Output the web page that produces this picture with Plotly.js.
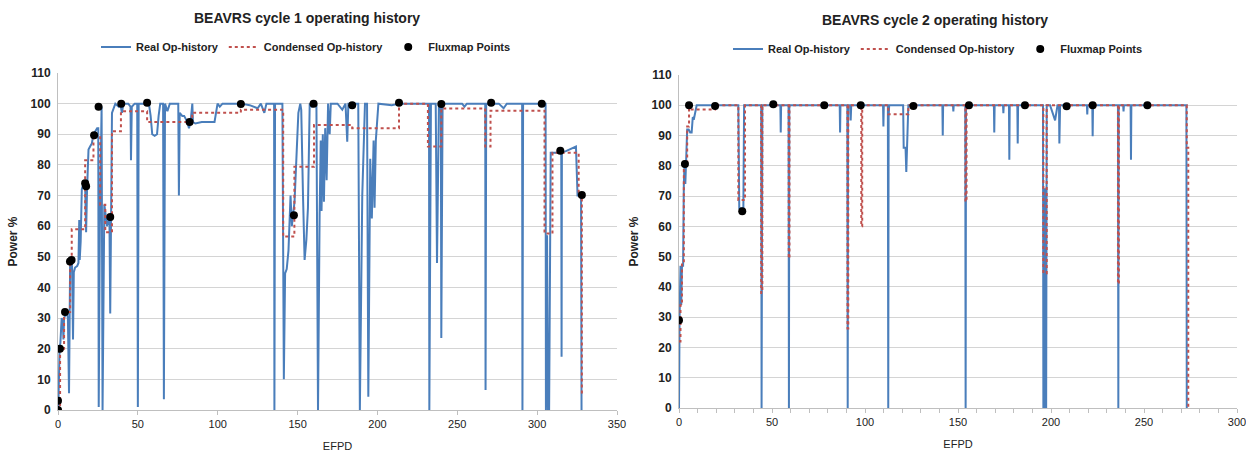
<!DOCTYPE html>
<html>
<head>
<meta charset="utf-8">
<script src="https://cdn.plot.ly/plotly-3.0.1.min.js"></script>
<style>
html,body{margin:0;padding:0;background:#fff;}
#chart{width:1246px;height:452px;}
</style>
</head>
<body>
<div id="chart"></div>
<script>
// ---------- Cycle 1 ----------
const c1RealX = [0,0.3,1.0,1.5,2.3,3.0,3.4,3.8,4.6,5.5,6.2,6.9,7.3,7.6,8.2,8.8,9.4,9.9,10.7,12.0,12.8,13.3,13.6,14.2,14.9,15.9,17.0,17.6,18.2,19.1,20.1,21.2,22.2,23.5,24.5,25.2,25.5,26.2,26.9,27.3,27.9,28.5,29.0,30.0,30.6,31.7,32.2,32.7,33.3,33.8,35.9,38.0,39.0,40.0,41.0,44.0,45.4,45.7,46.2,48.0,49.6,50.0,50.5,52.0,56.9,58.0,59.0,60.5,62.0,63.0,64.0,65.8,66.3,67.0,68.5,70.0,75.3,75.7,76.2,77.8,79.0,81.0,82.0,83.0,84.1,84.5,86.0,90.0,95.0,98.0,99.9,101.3,103,110,115,120,125,127,129.2,130.5,135.3,135.5,135.9,140.5,140.8,141.4,142.2,143.2,144.3,145.6,146.4,147.1,148.1,149.5,150.5,151.7,152.3,153.4,154.4,155.5,156.5,157.6,159.0,161.8,162.8,163.8,164.5,165.0,165.8,166.5,167.3,168.2,169.1,170.1,170.8,175,178,180,181.1,181.8,186,188,189,190.5,192.2,193.5,194.3,195.5,196.5,197.6,198.2,199.0,200.6,209,213.5,232.3,232.5,233.5,236.5,237.3,238.5,239.7,240.0,240.8,253,254.5,256,267.5,267.7,268.1,276,279,281,290.6,290.8,291.2,305.3,305.5,306.2,306.8,307.5,308.5,312,315.1,315.3,315.5,318,322,324.3,325.3,327.5,327.8];
const c1RealY = [0,3,20,22,30,29,23,30,31,32,30,5.5,30,49,48,47,23,45,46.5,47,48,62,49,55,72,74,73,58,72,85,86,87,90,91,92,92,1,60,98,99,0,30,67,63,60,62,63,31.5,80,97,100,99,100,97,100,100,99,81.5,99,100,100,1,100,100,100,96,90,89.5,90,96,100,100,3.5,100,97.5,100,100,70,97,96,96,94,92,94,100,94,93.5,94,94,94,100,99,100,100,100,99.5,98.5,100,97,100,100,0,100,100,61,10,44.6,46,52,70,60,64.2,68,85,97,100,98,70,49,55.5,66,100,99,100,0,63.6,88,65,90,68,92,75,100,90,100,100,98,100,87.6,100,100,100,0,70,100,100,4.3,82,62.5,88,66,88,100,99.5,100,100,0,100,100,48,100,100,23.5,100,100,99,100,100,6.5,100,100,98.5,100,100,0,100,100,0,57,0,0,84,84,84,17.4,84,84.5,85.5,86,70,70,0];
const c1CondX = [0,1.3,3.8,7.6,8.6,17,22.2,26.4,29.6,33.8,39.4,55.8,84,114.5,141,148,160.3,184.2,213.5,231.6,240,267.5,270.8,304.6,309.6,326,328,328.2];
const c1CondY = [0,20,32,49,59,81.5,89.7,67,58,91,97.5,94,97,98,56.6,79.4,93,92,100,86,98.4,86,97.7,57.6,84,70,5,5];
const c1FluxX = [0,0,1.2,4.4,7.5,8.5,17,17.6,22.6,25.4,32.7,39.6,55.8,82.4,114.5,147.7,160,184.2,213.5,240,271.2,302.9,314.5,328];
const c1FluxY = [0,3,20,32,48.5,49,74,73,89.7,99,63,100,100.3,94,99.9,63.6,100,99.5,100.3,99.9,100.3,100,84.6,70.2];

// ---------- Cycle 2 ----------
const c2RealX = [0,0.1,0.3,0.8,1.2,1.6,2.2,2.6,3.0,3.4,3.8,4.4,5.2,6.0,6.8,7.4,8.1,9.5,31.9,32.4,34.6,35.0,44.2,44.4,44.8,54.5,54.7,54.9,58.9,59.1,59.3,86.4,86.6,86.8,90.5,90.7,90.9,92,92.3,92.6,109.7,109.9,110.1,112.3,112.5,112.7,113,120.5,120.8,121.8,122.2,122.6,123.3,141.6,141.8,142,147.3,147.5,147.7,153.9,154.1,154.3,169.3,169.5,169.7,174.2,174.4,174.6,177.4,177.6,177.8,181.9,182.1,182.3,195.7,195.9,196.6,196.8,197.0,197.4,197.7,199.5,201,202.2,203.5,204.3,204.5,204.9,219.3,219.5,219.7,222.2,222.4,222.6,236,236.2,236.4,238.8,239,239.2,242.8,243,243.2,272.8,273];
const c2RealY = [0,22,29,47,34,47,47,74,81,74,80,92,92,91,91,96,95.7,100,100,66,66,100,100,0,100,100,91,100,100,0,100,100,91,100,100,0,100,100,95,100,100,93,100,100,0,96,100,100,86,86,78,90,100,100,90,100,100,98,100,100,0,100,100,91,100,100,97.4,100,100,82,100,100,87.4,100,100,0,0,72.6,0,0,100,100,97,95,100,100,87.4,100,100,97,100,100,89.8,100,100,0,100,100,98,100,100,82,100,100,0];
const c2CondX = [0,0.8,1.6,2.6,3.4,4.4,5.4,6.8,19.4,31.9,35.5,44.2,44.8,59,59.4,90.6,91,98,98.5,112.5,123.3,154,154.6,195.9,197.7,236,236.5,273,273.8,274];
const c2CondY = [22,34,47.8,78.6,80.6,93,100,98.6,100,68.7,100,38,100,49.4,100,26.3,100,60,100,97,100,68.2,100,44.5,100,41,100,86,0,0];
const c2FluxX = [0,3.2,5.4,19.4,34,50.7,78.1,97.7,126,155.9,186,208.4,222.4,251.8];
const c2FluxY = [29,80.6,100,99.8,65,100.3,100,100,99.8,100,100,99.7,100,100];

const titles = ['BEAVRS cycle 1 operating history','BEAVRS cycle 2 operating history'];
const names = ['Real Op-history','Condensed Op-history','Fluxmap Points'];

const BLUE = '#4a7ebb', RED = '#c0504d';
const FONT = 'Liberation Sans Narrow, Liberation Sans, Arial, sans-serif';

function series(rx, ry, cx, cy, fx, fy, ax, lg) {
  return [
    {x: rx, y: ry, type: 'scatter', mode: 'lines', name: names[0], xaxis: 'x'+ax, yaxis: 'y'+ax, legend: lg,
     line: {color: BLUE, width: 2}},
    {x: cx, y: cy, type: 'scatter', mode: 'lines', name: names[1], xaxis: 'x'+ax, yaxis: 'y'+ax, legend: lg,
     line: {color: RED, width: 2, dash: 'dot', shape: 'hv'}},
    {x: fx, y: fy, type: 'scatter', mode: 'markers', name: names[2], xaxis: 'x'+ax, yaxis: 'y'+ax, legend: lg,
     marker: {color: '#000', size: 8}}
  ];
}

const data = [
  ...series(c1RealX, c1RealY, c1CondX, c1CondY, c1FluxX, c1FluxY, '', 'legend'),
  ...series(c2RealX, c2RealY, c2CondX, c2CondY, c2FluxX, c2FluxY, '2', 'legend2')
];

const W = 1246, H = 452;
const tickFont = {family: FONT, size: 12, color: '#222', weight: 'bold'};
function yax(domain, anchor) {
  return {domain: domain, anchor: anchor, range: [0, 110], dtick: 10, showgrid: true, gridcolor: '#d4d4d4', gridwidth: 1,
    showline: true, linecolor: '#bfbfbf', zeroline: false, ticks: '', tickfont: tickFont, ticklabelstandoff: 4,
    title: {text: 'Power %', font: {family: FONT, size: 12, color: '#222', weight: 'bold'}, standoff: 10}};
}
function xax(domain, anchor, maxv, minor) {
  const a = {domain: domain, anchor: anchor, range: [0, maxv], dtick: 50, showgrid: false, showline: true, linecolor: '#bfbfbf',
    zeroline: false, ticks: 'outside', ticklen: 4, tickcolor: '#bfbfbf', tickfont: {family: FONT, size: 11, color: '#222'},
    ticklabeloverflow: 'allow',
    title: {text: 'EFPD', font: {family: FONT, size: 11, color: '#222'}, standoff: 13}};
  if (minor) a.minor = {dtick: 10, ticks: 'outside', ticklen: 4, tickcolor: '#bfbfbf', showgrid: false};
  return a;
}

const legendCommon = {orientation: 'h', yanchor: 'middle', xanchor: 'center', bgcolor: 'rgba(0,0,0,0)',
  font: {family: FONT, size: 11, color: '#222', weight: 'bold'}, itemwidth: 30, tracegroupgap: 0};

const layout = {
  width: W, height: H,
  margin: {l: 0, r: 0, t: 0, b: 0},
  paper_bgcolor: '#fff', plot_bgcolor: '#fff',
  showlegend: true,
  xaxis: xax([58/W, 617/W], 'y', 350, false),
  yaxis: yax([(H-410)/H, (H-73)/H], 'x'),
  xaxis2: xax([679/W, 1237/W], 'y2', 300, true),
  yaxis2: yax([(H-408)/H, (H-75)/H], 'x2'),
  legend: Object.assign({}, legendCommon, {x: 306/W, y: (H-47)/H}),
  legend2: Object.assign({}, legendCommon, {x: 938/W, y: (H-49)/H}),
  annotations: [
    {text: titles[0], xref: 'paper', yref: 'paper', x: 307/W, y: (H-18)/H, showarrow: false, xanchor: 'center', yanchor: 'middle',
     font: {family: FONT, size: 14, color: '#222', weight: 'bold'}},
    {text: titles[1], xref: 'paper', yref: 'paper', x: 935/W, y: (H-20)/H, showarrow: false, xanchor: 'center', yanchor: 'middle',
     font: {family: FONT, size: 14, color: '#222', weight: 'bold'}}
  ]
};

Plotly.newPlot('chart', data, layout, {displayModeBar: false, staticPlot: true});
</script>
</body>
</html>
